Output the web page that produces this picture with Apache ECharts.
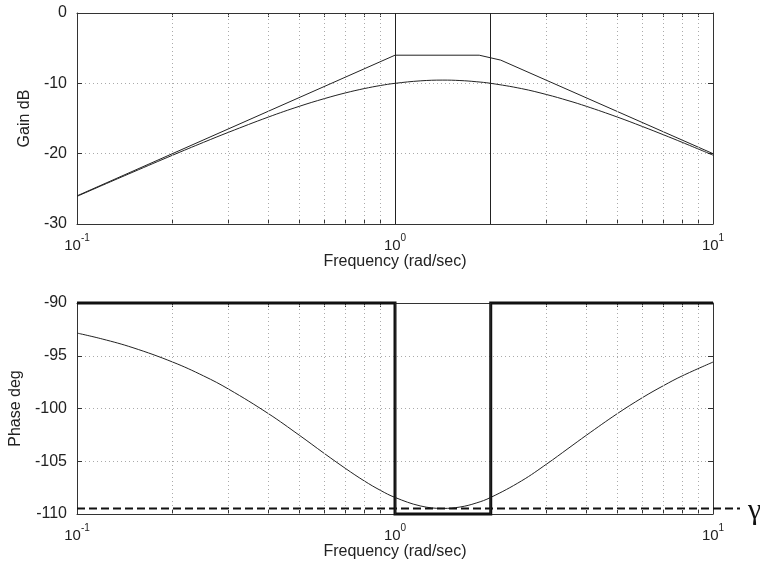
<!DOCTYPE html>
<html>
<head>
<meta charset="utf-8">
<script src="https://cdn.jsdelivr.net/npm/echarts@6/dist/echarts.min.js"></script>
<style>
  html, body { margin: 0; padding: 0; background: #fff; }
  #chart { width: 760px; height: 567px; }
</style>
</head>
<body>
<div id="chart"></div>
<script>
// Frequency samples (rad/sec)
var freq = [0.1, 0.12, 0.15, 0.2, 0.25, 0.3, 0.4, 0.5, 0.6, 0.7, 0.8, 0.9, 1, 1.2, 1.414, 1.6, 1.8, 2, 2.5, 3, 3.5, 4, 5, 6, 7, 8, 10];
// Exact gain (dB) and phase (deg) at those frequencies
var gain = [-26.07, -24.51, -22.62, -20.21, -18.39, -16.95, -14.79, -13.27, -12.17, -11.35, -10.75, -10.31, -10.00, -9.65, -9.54, -9.60, -9.77, -10.00, -10.75, -11.60, -12.45, -13.27, -14.79, -16.14, -17.33, -18.39, -20.21];
var phase = [-92.85, -93.41, -94.24, -95.60, -96.91, -98.17, -100.49, -102.53, -104.27, -105.70, -106.86, -107.76, -108.43, -109.23, -109.47, -109.34, -108.96, -108.43, -106.86, -105.26, -103.80, -102.53, -100.49, -98.97, -97.82, -96.91, -95.60];

// Straight-line gain asymptote
var asymFreq = [0.1, 1, 1.84, 2.15, 10];
var asymGain = [-26, -6, -6, -6.7, -20];

// Phase bound (bold rectangle)
var boundFreq = [0.1, 1, 1, 2, 2, 10];
var boundPhase = [-90, -90, -110, -110, -90, -90];

// Corner frequencies marked with vertical lines
var cornerFreq = [1, 2];

// Minimum phase level
var gammaLevel = -109.47;

// Axis ticks
var xMajor = [0.1, 1, 10];
var xMinor = [0.2, 0.3, 0.4, 0.5, 0.6, 0.7, 0.8, 0.9, 2, 3, 4, 5, 6, 7, 8, 9];
var xExponent = ['-1', '0', '1'];
var gainTicks = { min: -30, max: 0, interval: 10 };
var phaseTicks = { min: -110, max: -90, interval: 5 };

function pairs(xs, ys) {
  return xs.map(function (x, i) { return [x, ys[i]]; });
}

var FONT = 'Liberation Sans, Arial, Helvetica, sans-serif';
var INK = '#222';
var AXIS = '#333';
var GRIDC = '#aaa';

function freqAxis(gridIndex, showLabels) {
  return {
    type: 'log', logBase: 10, min: 0.1, max: 10, gridIndex: gridIndex, position: 'bottom',
    axisLine: { show: true, onZero: false, lineStyle: { color: AXIS, width: 1 } },
    axisTick: { show: true, inside: true, length: 4, customValues: xMinor.concat(xMajor), lineStyle: { color: AXIS } },
    axisLabel: {
      show: showLabels, customValues: xMajor, margin: 9, color: INK, fontFamily: FONT,
      formatter: function (v) {
        var i = xMajor.findIndex(function (m) { return Math.abs(m - v) / m < 1e-6; });
        return '{b|10}{s|' + xExponent[i] + '}';
      },
      rich: {
        b: { fontSize: 15, fontFamily: FONT, color: INK, verticalAlign: 'bottom', lineHeight: 20 },
        s: { fontSize: 10, fontFamily: FONT, color: INK, verticalAlign: 'top', lineHeight: 20 }
      }
    },
    splitLine: { show: false },
    name: 'Frequency (rad/sec)', nameLocation: 'middle', nameGap: 30,
    nameTextStyle: { fontSize: 16, fontFamily: FONT, color: INK }
  };
}

function topAxis(gridIndex) {
  return {
    type: 'log', logBase: 10, min: 0.1, max: 10, gridIndex: gridIndex, position: 'top',
    axisLine: { show: true, onZero: false, lineStyle: { color: AXIS, width: 1 } },
    axisTick: { show: true, inside: true, length: 4, customValues: xMinor.concat(xMajor), lineStyle: { color: AXIS } },
    axisLabel: { show: false },
    splitLine: { show: false }
  };
}

function leftAxis(gridIndex, t, name, gap) {
  return {
    type: 'value', gridIndex: gridIndex, position: 'left', min: t.min, max: t.max, interval: t.interval,
    axisLine: { show: true, onZero: false, lineStyle: { color: AXIS, width: 1 } },
    axisTick: { show: true, inside: true, length: 5, lineStyle: { color: AXIS } },
    axisLabel: { fontSize: 16, fontFamily: FONT, color: INK, margin: 10 },
    splitLine: { show: true, lineStyle: { color: GRIDC, type: [1, 3], width: 1 } },
    name: name, nameLocation: 'middle', nameGap: gap,
    nameTextStyle: { fontSize: 16, fontFamily: FONT, color: INK }
  };
}

function rightAxis(gridIndex, t) {
  return {
    type: 'value', gridIndex: gridIndex, position: 'right', min: t.min, max: t.max, interval: t.interval,
    axisLine: { show: true, onZero: false, lineStyle: { color: AXIS, width: 1 } },
    axisTick: { show: true, inside: true, length: 5, lineStyle: { color: AXIS } },
    axisLabel: { show: false },
    splitLine: { show: false }
  };
}

// Dotted vertical grid at each minor decade step
function minorGrid() {
  return {
    silent: true, symbol: 'none', label: { show: false },
    lineStyle: { color: GRIDC, type: [1, 3], width: 1 },
    data: xMinor.map(function (v) { return { xAxis: v }; })
  };
}

var thin = { color: INK, width: 1 };

var option = {
  animation: false,
  backgroundColor: '#fff',
  grid: [
    { left: 77, right: 47, top: 13, height: 211 },
    { left: 77, right: 47, top: 303, height: 211 },
    { left: 77, right: 20, top: 303, height: 211 }
  ],
  xAxis: [
    freqAxis(0, true),
    topAxis(0),
    freqAxis(1, true),
    topAxis(1),
    { type: 'value', gridIndex: 2, min: 0, max: 1, show: false }
  ],
  yAxis: [
    leftAxis(0, gainTicks, 'Gain dB', 41),
    rightAxis(0, gainTicks),
    leftAxis(1, phaseTicks, 'Phase deg', 51),
    rightAxis(1, phaseTicks),
    { type: 'value', gridIndex: 2, min: phaseTicks.min, max: phaseTicks.max, show: false }
  ],
  series: [
    {
      name: 'grid-gain', type: 'line', xAxisIndex: 0, yAxisIndex: 0, data: [], silent: true,
      markLine: minorGrid()
    },
    {
      name: 'grid-phase', type: 'line', xAxisIndex: 2, yAxisIndex: 2, data: [], silent: true,
      markLine: minorGrid()
    },
    {
      name: 'asymptote', type: 'line', xAxisIndex: 0, yAxisIndex: 0, symbol: 'none',
      data: pairs(asymFreq, asymGain), lineStyle: thin, z: 3,
      markLine: {
        silent: true, symbol: 'none', label: { show: false },
        lineStyle: { color: INK, type: 'solid', width: 1 },
        data: cornerFreq.map(function (v) { return { xAxis: v }; })
      }
    },
    {
      name: 'gain', type: 'line', xAxisIndex: 0, yAxisIndex: 0, symbol: 'none', smooth: 0.4,
      data: pairs(freq, gain), lineStyle: thin, z: 3
    },
    {
      name: 'phase', type: 'line', xAxisIndex: 2, yAxisIndex: 2, symbol: 'none', smooth: 0.4,
      data: pairs(freq, phase), lineStyle: thin, z: 3,
      markLine: {
        silent: true, symbol: 'none', label: { show: false },
        lineStyle: { color: INK, type: 'solid', width: 1 },
        data: cornerFreq.map(function (v) { return { xAxis: v }; })
      }
    },
    {
      name: 'bound', type: 'line', xAxisIndex: 2, yAxisIndex: 2, symbol: 'none',
      data: pairs(boundFreq, boundPhase), clip: false,
      lineStyle: { color: '#111', width: 3, join: 'miter' }, z: 4
    },
    {
      name: 'gamma', type: 'line', xAxisIndex: 4, yAxisIndex: 4, symbol: 'none',
      data: [[0, gammaLevel], [1, gammaLevel]],
      lineStyle: { color: '#111', width: 2, type: [8, 4] }, z: 4,
      endLabel: {
        show: true, formatter: 'γ', distance: 8, offset: [0, 3],
        fontSize: 30, fontFamily: 'Liberation Serif, DejaVu Serif, serif', color: '#111'
      }
    }
  ]
};

var chart = echarts.init(document.getElementById('chart'), null, { renderer: 'canvas' });
chart.setOption(option);
</script>
</body>
</html>
